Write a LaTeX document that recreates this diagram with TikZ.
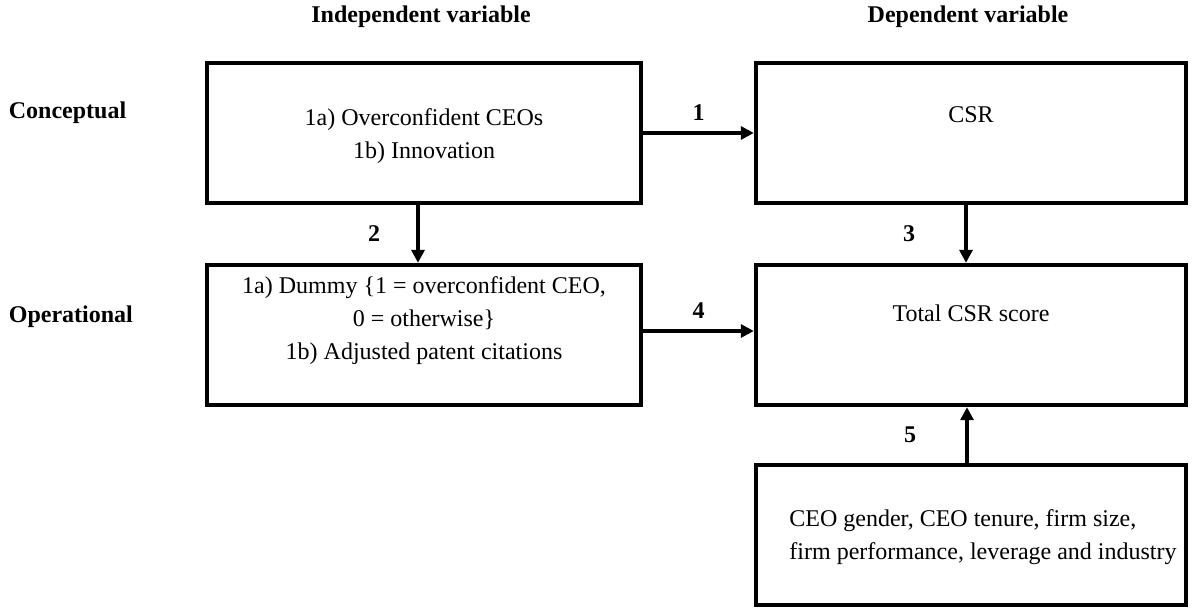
\documentclass[tikz,border=0pt]{standalone}
\usepackage{fontspec}
\setmainfont{Liberation Serif}
\usetikzlibrary{arrows.meta}

\begin{document}
\begin{tikzpicture}[->,line width=2.2pt,>={Triangle[length=6.5pt,width=6.5pt]},x=0.5pt,y=-0.5pt]
    \tikzstyle{txt}=[font=\fontsize{12pt}{16.5pt}\selectfont]
    \tikzstyle{box}=[style=txt,draw=black,rectangle,inner sep=0pt,align=center,minimum height=70pt]
    \tikzstyle{lbox}=[style=box,minimum width=217pt]
    \tikzstyle{rbox}=[style=box,minimum width=215pt]
    \tikzstyle{head}=[font=\fontsize{12pt}{16.5pt}\selectfont\bfseries]

    \useasboundingbox (0,0) rectangle (1192,610);

    \node[head] (indep) at (421,17) {Independent variable};
    \node[head] (dep)   at (968,17) {Dependent variable};
    \node[head,anchor=west] (concept) at (0,113) {Conceptual};
    \node[head,anchor=west] (oper)    at (0,317) {Operational};

    % text height = baseline of the last line below the top of the box
    \node[lbox,text height=47.5pt,text depth=22.5pt] (a) at (424,133) {1a) Overconfident CEOs\\1b) Innovation};
    \node[rbox,text height=29.5pt,text depth=40.5pt] (b) at (971,133) {CSR};
    \node[lbox,text height=47pt,text depth=23pt]     (c) at (424,335) {1a) Dummy \{1 = overconfident CEO,\\0 = otherwise\}\\1b) Adjusted patent citations};
    \node[rbox,text height=28pt,text depth=42pt]     (d) at (971,335) {Total CSR score};
    \node[rbox,text height=47pt,text depth=23pt,align=left] (e) at (971,535) {\hspace*{12pt}CEO gender, CEO tenure, firm size,\\\hspace*{12pt}firm performance, leverage and industry};

    \path
     (a.east) edge node[head,above=2pt] {1} (b.west)
     ([xshift=-3pt]a.south) edge node[head,left=14.5pt] {2} ([xshift=-3pt]c.north)
     ([xshift=-2.5pt]b.south) edge node[head,left=21pt] {3} ([xshift=-2.5pt]d.north)
     ([yshift=2pt]c.east) edge node[head,above=2pt] {4} ([yshift=2pt]d.west)
     ([xshift=-2pt]e.north) edge node[head,left=21pt] {5} ([xshift=-2pt]d.south)
     ;
\end{tikzpicture}
\end{document}
